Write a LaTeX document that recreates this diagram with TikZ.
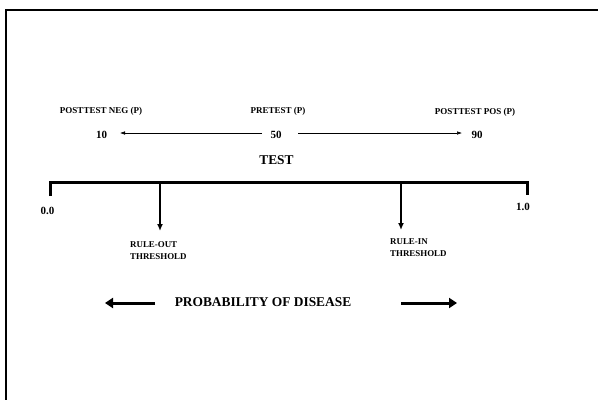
\documentclass[tikz,border=0pt]{standalone}
\usepackage{fontspec}
\setmainfont{Liberation Serif}
\usetikzlibrary{arrows.meta}
\begin{document}
\begin{tikzpicture}[x=1pt,y=-1pt,
  small/.style={font=\bfseries\fontsize{9}{10}\selectfont, inner sep=0pt},
  thr/.style={font=\bfseries\fontsize{8.9}{12}\selectfont, inner sep=0pt, align=left, anchor=north west},
  num/.style={font=\bfseries\fontsize{11}{12}\selectfont, inner sep=0pt},
  big/.style={font=\bfseries\fontsize{13.4}{15}\selectfont, inner sep=0pt},
  thin arrow/.style={line width=0.5pt, -{Latex[length=5pt,width=3.5pt]}},
  thresh arrow/.style={line width=1.4pt, -{Latex[length=7pt,width=6pt]}},
  thick arrow/.style={line width=3pt, -{Triangle[length=8pt,width=10pt]}},
  frame/.style={line width=2pt}
  ]
\useasboundingbox (0,0) rectangle (598,400);
% frame
\coordinate (ftr) at (598,10);
\coordinate (ftl) at (5.5,10);
\coordinate (fbl) at (5.5,400);
\draw[frame] (ftr) -- (ftl) -- (fbl);
% top labels
\node[small] (negl) at (101,111) {POSTTEST NEG (P)};
\node[small] (prel) at (278,111) {PRETEST (P)};
\node[small] (posl) at (475,112) {POSTTEST POS (P)};
\node[num] (n10) at (101.5,135) {10};
\node[num] (n50) at (276,135) {50};
\node[num] (n90) at (477,135) {90};
\coordinate (t10) at (120,133);
\coordinate (s50l) at (262,133);
\coordinate (s50r) at (298,133);
\coordinate (t90) at (462,133);
\draw[thin arrow] (s50l) -- (t10);
\draw[thin arrow] (s50r) -- (t90);
\node[big] (test) at (276.5,160) {TEST};
% bracket
\coordinate (bl) at (50,196);
\coordinate (blt) at (50,182);
\coordinate (brt) at (527,182);
\coordinate (br) at (527,195);
\draw[line width=3pt, line join=miter] (bl) -- (blt) -- (brt) -- (br);
\node[num] (z0) at (47.5,211) {0.0};
\node[num] (z1) at (523,206.5) {1.0};
% thresholds
\coordinate (ro0) at (160,182);
\coordinate (ro1) at (160,231);
\coordinate (ri0) at (401,182);
\coordinate (ri1) at (401,230);
\draw[thresh arrow] (ro0) -- (ro1);
\draw[thresh arrow] (ri0) -- (ri1);
\node[thr] (rol) at (130,241) {RULE-OUT\\THRESHOLD};
\node[thr] (ril) at (390,238.5) {RULE-IN\\THRESHOLD};
% probability
\node[big] (prob) at (263,302) {PROBABILITY OF DISEASE};
\coordinate (pl0) at (155,303);
\coordinate (pl1) at (105,303);
\coordinate (pr0) at (401,303);
\coordinate (pr1) at (457,303);
\draw[thick arrow] (pl0) -- (pl1);
\draw[thick arrow] (pr0) -- (pr1);
\end{tikzpicture}
\end{document}
